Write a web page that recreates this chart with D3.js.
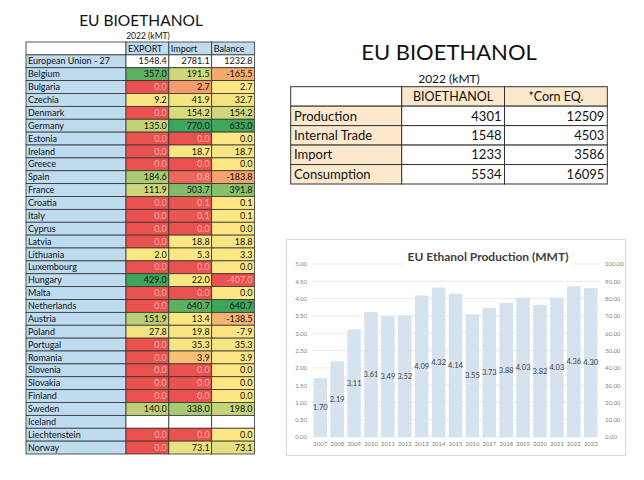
<!DOCTYPE html>
<html><head><meta charset="utf-8">
<script src="https://cdn.jsdelivr.net/npm/d3@7"></script>
<style>body{margin:0;background:#fff}svg{display:block;font-family:Lato,'Liberation Sans',sans-serif}</style>
</head><body><svg id="c" width="644" height="480"></svg>
<script>
// ---------- data ----------
const countries = ["Belgium","Bulgaria","Czechia","Denmark","Germany","Estonia","Ireland","Greece","Spain","France","Croatia","Italy","Cyprus","Latvia","Lithuania","Luxembourg","Hungary","Malta","Netherlands","Austria","Poland","Portugal","Romania","Slovenia","Slovakia","Finland","Sweden","Iceland","Liechtenstein","Norway"];
const exportKmt  = [357.0,0.0,9.2,0.0,135.0,0.0,0.0,0.0,184.6,111.9,0.0,0.0,0.0,0.0,2.0,0.0,429.0,0.0,0.0,151.9,27.8,0.0,0.0,0.0,0.0,0.0,140.0,null,0.0,0.0];
const importKmt  = [191.5,2.7,41.9,154.2,770.0,0.0,18.7,0.0,0.8,503.7,0.1,0.1,0.0,18.8,5.3,0.0,22.0,0.0,640.7,13.4,19.8,35.3,3.9,0.0,0.0,0.0,338.0,null,0.0,73.1];
const balanceKmt = [-165.5,2.7,32.7,154.2,635.0,0.0,18.7,0.0,-183.8,391.8,0.1,0.1,0.0,18.8,3.3,0.0,-407.0,0.0,640.7,-138.5,-7.9,35.3,3.9,0.0,0.0,0.0,198.0,null,0.0,73.1];
const euLabel = "European Union - 27";
const euValues = [1548.4, 2781.1, 1232.8];
const tradeColumns = ["EXPORT","Import","Balance"];
const leftTitle = "EU BIOETHANOL";
const leftSubtitle = "2022 (kMT)";

const summaryRows = ["Production","Internal Trade","Import","Consumption"];
const summaryColumns = ["BIOETHANOL","*Corn EQ."];
const bioethanolKmt = [4301,1548,1233,5534];
const cornEqKmt = [12509,4503,3586,16095];
const rightTitle = "EU BIOETHANOL";
const rightSubtitle = "2022 (kMT)";

const years = ["2007","2008","2009","2010","2011","2012","2013","2014","2015","2016","2017","2018","2019","2020","2021","2022","2023"];
const productionMmt = [1.70,2.19,3.11,3.61,3.49,3.52,4.09,4.32,4.14,3.55,3.73,3.88,4.03,3.82,4.03,4.36,4.30];
const leftTicks = [0,0.5,1,1.5,2,2.5,3,3.5,4,4.5,5];
const rightTicks = [0,10,20,30,40,50,60,70,80,90,100];
const chartTitle = "EU Ethanol Production (MMT)";

// ---------- drawing ----------
const svg = d3.select("#c");
svg.append("rect").attr("width",644).attr("height",480).attr("fill","#fff");

// ===== Left table =====
const RED = "#e9524f", YEL = "#fde784", GRN = "#3ea55c";
function colorScaleFor(vals){
  const v = vals.filter(d=>d!=null).sort(d3.ascending);
  const mn = v[0], mx = v[v.length-1], md = d3.quantile(v,0.5);
  return function(x){
    if (x==null) return {fill:"#fff", t:1, low:false};
    if (x<=md){
      const t = md===mn ? 0 : (x-mn)/(md-mn);
      return {fill:d3.interpolateRgb(RED,YEL)(t), t:t, low:true};
    }
    const t = (x-md)/(mx-md);
    return {fill:d3.interpolateRgb(YEL,GRN)(t), t:t, low:false};
  };
}
const colData = [exportKmt, importKmt, balanceKmt];
const colScales = colData.map(colorScaleFor);

const rowKeys = ["__hdr", euLabel].concat(countries);
const ty = d3.scaleBand().domain(rowKeys).range([42, 454]);
const tx = d3.scaleBand().domain(tradeColumns).range([126, 254.5]);
const labelX0 = 26;
const lt = svg.append("g");

lt.append("text").attr("x",141).attr("y",26).attr("text-anchor","middle")
  .attr("font-size",15.5).attr("fill","#111").text(leftTitle);
lt.append("text").attr("x",148).attr("y",38.5).attr("text-anchor","middle")
  .attr("font-size",8.5).attr("fill","#111").text(leftSubtitle);

rowKeys.forEach((k,i)=>{
  lt.append("rect").attr("x",labelX0).attr("y",ty(k)).attr("width",126-labelX0).attr("height",ty.bandwidth())
    .attr("fill", i===0 ? "#fff" : "#bfdbf0").attr("stroke","#333").attr("stroke-width",0.8);
  if (i>0) lt.append("text").attr("x",labelX0+2).attr("y",ty(k)+ty.bandwidth()/2).attr("dy","0.35em")
    .attr("font-size",9).attr("fill","#111").text(k);
});
tradeColumns.forEach(c=>{
  lt.append("rect").attr("x",tx(c)).attr("y",ty("__hdr")).attr("width",tx.bandwidth()).attr("height",ty.bandwidth())
    .attr("fill","#bfdbf0").attr("stroke","#333").attr("stroke-width",0.8);
  lt.append("text").attr("x",tx(c)+2).attr("y",ty("__hdr")+ty.bandwidth()/2).attr("dy","0.35em")
    .attr("font-size",9).attr("fill","#111").text(c);
});
tradeColumns.forEach((c,j)=>{
  lt.append("rect").attr("x",tx(c)).attr("y",ty(euLabel)).attr("width",tx.bandwidth()).attr("height",ty.bandwidth())
    .attr("fill","#fff").attr("stroke","#333").attr("stroke-width",0.8);
  lt.append("text").attr("x",tx(c)+tx.bandwidth()-2).attr("y",ty(euLabel)+ty.bandwidth()/2).attr("dy","0.35em")
    .attr("text-anchor","end").attr("font-size",9).attr("fill","#111").text(euValues[j].toFixed(1));
});
countries.forEach((name,i)=>{
  tradeColumns.forEach((c,j)=>{
    const v = colData[j][i];
    const cs = colScales[j](v);
    lt.append("rect").attr("x",tx(c)).attr("y",ty(name)).attr("width",tx.bandwidth()).attr("height",ty.bandwidth())
      .attr("fill",cs.fill).attr("stroke","#333").attr("stroke-width",0.8);
    if (v!=null){
      lt.append("text").attr("x",tx(c)+tx.bandwidth()-2).attr("y",ty(name)+ty.bandwidth()/2).attr("dy","0.35em")
        .attr("text-anchor","end").attr("font-size",9)
        .attr("fill", (cs.low && cs.t<0.4) ? "#f7aaa6" : "#111").text(v.toFixed(1));
    }
  });
});

// ===== Right summary table =====
const rt = svg.append("g");
rt.append("text").attr("x",449).attr("y",59.5).attr("text-anchor","middle")
  .attr("font-size",22).attr("fill","#111").text(rightTitle);
rt.append("text").attr("x",449).attr("y",82.5).attr("text-anchor","middle")
  .attr("font-size",12).attr("fill","#111").text(rightSubtitle);
const sRowKeys = ["__hdr"].concat(summaryRows);
const sy = d3.scaleBand().domain(sRowKeys).range([86.7,184]);
const sx = d3.scaleBand().domain(summaryColumns).range([401.7,607.3]);
const PEACH = "#fce8cd";
const sVals = [bioethanolKmt, cornEqKmt];
sRowKeys.forEach((k,i)=>{
  rt.append("rect").attr("x",290.7).attr("y",sy(k)).attr("width",401.7-290.7).attr("height",sy.bandwidth())
    .attr("fill", i===0 ? "#fff" : PEACH).attr("stroke","#333").attr("stroke-width",1);
  if (i>0) rt.append("text").attr("x",294).attr("y",sy(k)+sy.bandwidth()/2).attr("dy","0.36em")
    .attr("font-size",13).attr("fill","#111").text(k);
  summaryColumns.forEach((c,j)=>{
    rt.append("rect").attr("x",sx(c)).attr("y",sy(k)).attr("width",sx.bandwidth()).attr("height",sy.bandwidth())
      .attr("fill", i===0 ? PEACH : "#fff").attr("stroke","#333").attr("stroke-width",1);
    if (i===0){
      rt.append("text").attr("x",sx(c)+sx.bandwidth()/2).attr("y",sy(k)+sy.bandwidth()/2).attr("dy","0.36em")
        .attr("text-anchor","middle").attr("font-size",12.5).attr("fill","#111").text(c);
    } else {
      rt.append("text").attr("x",sx(c)+sx.bandwidth()-3).attr("y",sy(k)+sy.bandwidth()/2).attr("dy","0.36em")
        .attr("text-anchor","end").attr("font-size",13).attr("fill","#111").text(sVals[j][i-1]);
    }
  });
});

// ===== Bar chart =====
const ch = svg.append("g");
ch.append("rect").attr("x",286.5).attr("y",239.5).attr("width",339).attr("height",216)
  .attr("fill","#fff").attr("stroke","#d9d9d9").attr("stroke-width",1);
const x = d3.scaleBand().domain(years).range([312,599]).paddingInner(0.2).paddingOuter(0.09);
const y = d3.scaleLinear().domain([0,5]).range([437,264]);
const yR = d3.scaleLinear().domain([0,100]).range([437,264]);

ch.append("g").selectAll("line").data(leftTicks).join("line")
  .attr("x1",312).attr("x2",599).attr("y1",d=>y(d)).attr("y2",d=>y(d))
  .attr("stroke","#e3e3e3").attr("stroke-width",0.8);

ch.append("g").selectAll("rect").data(productionMmt).join("rect")
  .attr("x",(d,i)=>x(years[i])).attr("width",x.bandwidth())
  .attr("y",d=>y(d)).attr("height",d=>y(0)-y(d)).attr("fill","#d7e2ef");

const axL = ch.append("g").attr("transform","translate(312,0)")
  .call(d3.axisLeft(y).tickValues(leftTicks).tickFormat(d3.format(".2f")).tickSize(0).tickPadding(5));
const axR = ch.append("g").attr("transform","translate(600,0)")
  .call(d3.axisRight(yR).tickValues(rightTicks).tickFormat(d3.format(".2f")).tickSize(0).tickPadding(5));
const axB = ch.append("g").attr("transform","translate(0,437)")
  .call(d3.axisBottom(x).tickSize(0).tickPadding(5));
[axL,axR,axB].forEach(a=>{
  a.select(".domain").remove();
  a.selectAll("text").attr("font-size",6).attr("fill","#7f7f7f").attr("font-family","Lato,'Liberation Sans',sans-serif");
});

ch.append("g").selectAll("text").data(productionMmt).join("text")
  .attr("x",(d,i)=>x(years[i])+x.bandwidth()/2).attr("y",d=>y(d/2)).attr("dy","0.35em")
  .attr("text-anchor","middle").attr("font-size",7.5).attr("fill","#404040")
  .text(d=>d.toFixed(2));

ch.append("rect").attr("x",403).attr("y",248).attr("width",170).attr("height",18).attr("fill","#fff");
ch.append("text").attr("x",488).attr("y",261).attr("text-anchor","middle")
  .attr("font-size",12).attr("font-weight","bold").attr("fill","#404040").text(chartTitle);
</script></body></html>
